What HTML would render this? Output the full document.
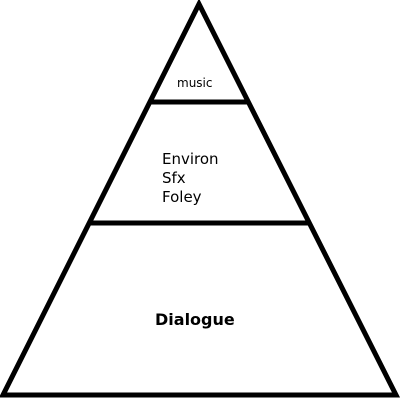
<!DOCTYPE html>
<html><head><style>body{margin:0;background:#fff}svg{display:block}</style></head>
<body>
<svg width="400" height="400" xmlns="http://www.w3.org/2000/svg">
<rect width="400" height="400" fill="#fff"/>
<polygon points="199,4 3,395 396,395" fill="#fff" stroke="#000" stroke-width="5" stroke-linejoin="miter"/>
<line x1="149" y1="102" x2="250" y2="102" stroke="#000" stroke-width="5"/>
<line x1="88" y1="223" x2="309" y2="223" stroke="#000" stroke-width="5"/>
<g font-family="DejaVu Sans, Liberation Sans, sans-serif" fill="#000">
<text x="177" y="87" font-size="12">music</text>
<text x="162" y="164" font-size="15">Environ</text>
<text x="162" y="183" font-size="15">Sfx</text>
<text x="162" y="202" font-size="15">Foley</text>
<text x="155" y="325" font-size="16" font-weight="bold">Dialogue</text>
</g>
</svg>
</body></html>
